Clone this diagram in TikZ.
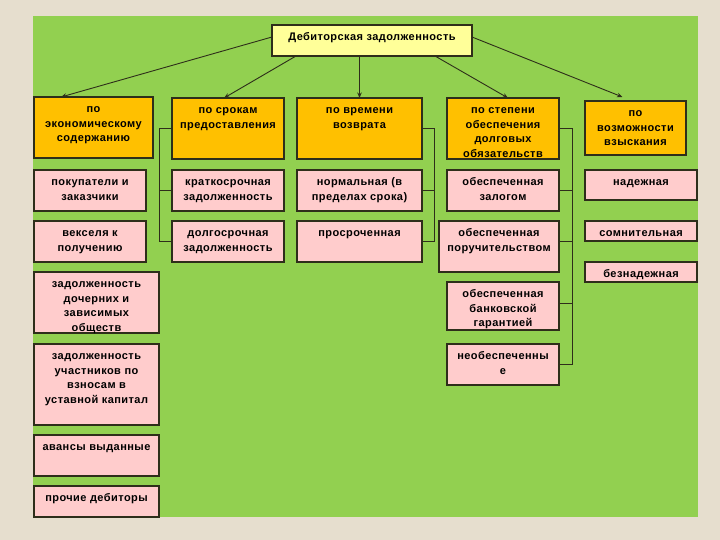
\documentclass[tikz,border=0pt]{standalone}
\usepackage{fontspec}
\setmainfont{Liberation Sans}[LetterSpace=4]
\usetikzlibrary{arrows.meta,calc}
\definecolor{pagebg}{HTML}{E6DECE}
\definecolor{greenbg}{HTML}{92D050}
\definecolor{catfill}{HTML}{FFC000}
\definecolor{subfill}{HTML}{FFCCCC}
\definecolor{topfill}{HTML}{FFFF99}
\definecolor{edge}{HTML}{2E2E1A}
\newcommand\mybox[7]{\node[#6,anchor=north west] (#1) at (#2,#3)
  {\parbox[c][\dimexpr#5pt-#3pt\relax][t]{\dimexpr#4pt-#2pt\relax}{\centering\vspace*{5.4pt}\strut#7\par}};}
\tikzset{
  boxbase/.style={draw=edge, line width=1.1pt, inner sep=0pt, outer sep=0pt,
    font=\fontsize{11}{14.5}\selectfont\bfseries},
  topbox/.style={boxbase, fill=topfill},
  catbox/.style={boxbase, fill=catfill},
  subbox/.style={boxbase, fill=subfill},
  conn/.style={draw=edge, line width=0.9pt},
  arr/.style={conn, -{Stealth[length=5.5pt,width=4.5pt]}}
}
\begin{document}
\begin{tikzpicture}[x=1pt,y=-1pt]
\useasboundingbox (0,0) rectangle (720,540);
\fill[pagebg] (0,0) rectangle (720,540);
\fill[greenbg] (33,16) rectangle (698,517);
% top
\mybox{top}{272}{25}{472}{56}{topbox}{Дебиторская задолженность}
% categories
\mybox{c1}{34}{97}{153}{158}{catbox}{по\\экономическому\\содержанию}
\mybox{c2}{172}{98}{284}{159}{catbox}{по срокам\\предоставления}
\mybox{c3}{297}{98}{422}{159}{catbox}{по времени\\возврата}
\mybox{c4}{447}{98}{559}{159}{catbox}{по степени\\обеспечения\\долговых\\обязательств}
\mybox{c5}{585}{101}{686}{155}{catbox}{по\\возможности\\взыскания}
% column 1
\mybox{a1}{34}{170}{146}{211}{subbox}{покупатели и\\заказчики}
\mybox{a2}{34}{221}{146}{262}{subbox}{векселя к\\получению}
\mybox{a3}{34}{272}{159}{333}{subbox}{задолженность\\дочерних и\\зависимых\\обществ}
\mybox{a4}{34}{344}{159}{425}{subbox}{задолженность\\участников по\\взносам в\\уставной капитал}
\mybox{a5}{34}{435}{159}{476}{subbox}{авансы выданные}
\mybox{a6}{34}{486}{159}{517}{subbox}{прочие дебиторы}
% column 2
\mybox{b1}{172}{170}{284}{211}{subbox}{краткосрочная\\задолженность}
\mybox{b2}{172}{221}{284}{262}{subbox}{долгосрочная\\задолженность}
% column 3
\mybox{d1}{297}{170}{422}{211}{subbox}{нормальная (в\\пределах срока)}
\mybox{d2}{297}{221}{422}{262}{subbox}{просроченная}
% column 4
\mybox{e1}{447}{170}{559}{211}{subbox}{обеспеченная\\залогом}
\mybox{e2}{439}{221}{559}{272}{subbox}{обеспеченная\\поручительством}
\mybox{e3}{447}{282}{559}{330}{subbox}{обеспеченная\\банковской\\гарантией}
\mybox{e4}{447}{344}{559}{385}{subbox}{необеспеченны\\е}
% column 5
\mybox{f1}{585}{170}{697}{200}{subbox}{надежная}
\mybox{f2}{585}{221}{697}{241}{subbox}{сомнительная}
\mybox{f3}{585}{262}{697}{282}{subbox}{безнадежная}
% arrows from the top box
\draw[arr] ([yshift=3.5]top.west) -- ([xshift=27]c1.north west);
\draw[arr] ([xshift=24]top.south west) -- ([xshift=-4]c2.north);
\draw[arr] (c3.north |- top.south) -- (c3.north);
\draw[arr] ([xshift=63]top.south) -- ([xshift=5]c4.north);
\draw[arr] ([yshift=3.5]top.east) -- ([xshift=-13,yshift=4]c5.north);
% brackets
\draw[conn] (c2.west) -- ++(-13,0) coordinate (k2) |- (b2.west);
\draw[conn] (b1.west) -- (b1.west -| k2);
\draw[conn] (c3.east) -- ++(12,0) coordinate (k3) |- (d2.east);
\draw[conn] (d1.east) -- (d1.east -| k3);
\draw[conn] (c4.east) -- ++(13,0) coordinate (k4) |- (e4.east);
\draw[conn] (e1.east) -- (e1.east -| k4);
\draw[conn] ([yshift=5.5]e2.east) -- ([yshift=5.5]e2.east -| k4);
\draw[conn] ([yshift=3]e3.east) -- ([yshift=3]e3.east -| k4);
\end{tikzpicture}
\end{document}
